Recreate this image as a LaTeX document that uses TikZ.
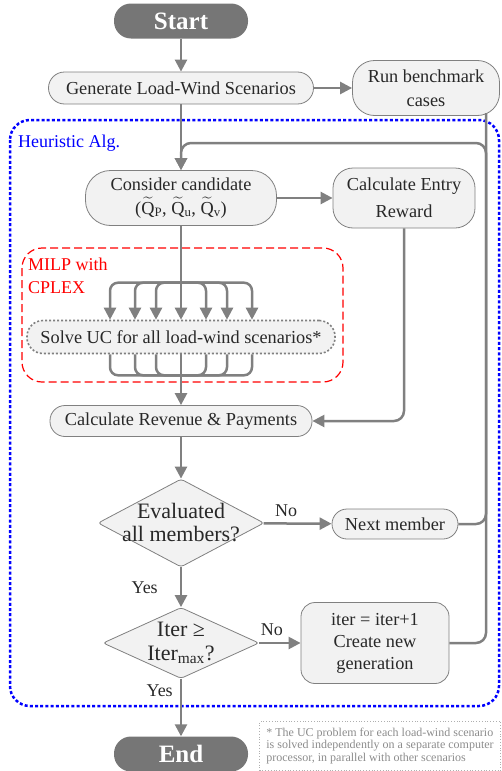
\documentclass[tikz,border=0pt]{standalone}
\usepackage{amsmath}
\usepackage{fontspec}
\setmainfont{Liberation Serif}
\usetikzlibrary{arrows.meta,shapes.geometric,positioning}

\definecolor{linegray}{RGB}{128,128,128}
\definecolor{boxfill}{RGB}{242,242,242}
\definecolor{termfill}{RGB}{118,118,118}
\definecolor{txtgray}{RGB}{40,40,40}
\definecolor{notegray}{RGB}{140,140,140}

\tikzset{
  procbox/.style={draw=linegray, line width=0.8pt, fill=boxfill, text=txtgray,
    align=center, inner sep=0pt, rounded corners=#1,
    font=\fontsize{18.3}{24}\selectfont},
  decision/.style={draw=linegray, line width=0.8pt, fill=boxfill, diamond,
    inner sep=0pt, rounded corners=3pt},
  terminal/.style={fill=termfill, text=white, rounded corners=17pt,
    minimum width=134pt, minimum height=35pt, inner sep=0pt,
    font=\fontsize{25}{30}\selectfont\bfseries},
  flow/.style={draw=linegray, line width=2.5pt,
    -{Triangle[length=12pt,width=12pt]}},
  link/.style={draw=linegray, line width=2.5pt},
  tag/.style={text=txtgray, font=\fontsize{18}{24}\selectfont, inner sep=0pt}
}

\begin{document}
\begin{tikzpicture}[x=1pt,y=-1pt]
		\useasboundingbox (0,0) rectangle (501,771);

		% containers
		\draw [blue, line width=2.5pt, dash pattern=on 3pt off 2.2pt, rounded corners=20pt] (10,120) rectangle (499,706);
		\node [anchor=west, text=blue, font=\fontsize{18}{24}\selectfont, inner sep=0pt] (heur) at (18,143) {Heuristic Alg.};
		\draw [red, line width=1.2pt, dash pattern=on 8pt off 4pt, rounded corners=20pt] (22,248) rectangle (343,382);
		\node [anchor=north west, text=red, align=left, font=\fontsize{18}{23}\selectfont, inner sep=0pt] (milp) at (28,258) {MILP with\\CPLEX};

		% nodes
		\node [terminal] (start) at (181,21) {Start};
		\node [procbox=16pt, minimum width=265pt, minimum height=32pt] (gen) at (181,88) {Generate Load-Wind Scenarios};
		\node [procbox=22pt, minimum width=147pt, minimum height=55pt] (bench) at (426,88) {Run benchmark\\cases};
		\node [procbox=25pt, minimum width=191pt, minimum height=55pt] (cand) at (181,198)
			{Consider candidate\\($\widetilde{\text{Q}}$\textsubscript{P}, $\widetilde{\text{Q}}$\textsubscript{u}, $\widetilde{\text{Q}}$\textsubscript{v})};
		\node [procbox=20pt, minimum width=142pt, minimum height=60pt, font=\fontsize{18.3}{27}\selectfont] (entry) at (404,198) {Calculate Entry\\Reward};
		\node [procbox=16pt, minimum width=308pt, minimum height=33pt, line width=1.6pt, dash pattern=on 2pt off 2pt] (solve) at (181,337)
			{Solve UC for all load-wind scenarios*};
		\node [procbox=15pt, minimum width=262pt, minimum height=31pt] (rev) at (181,421) {Calculate Revenue \& Payments};
		\node [decision, minimum width=166pt, minimum height=88pt,
			label={[tag, align=center, font=\fontsize{22}{23}\selectfont]center:Evaluated\\all members?}] (eval) at (181,523) {};
		\node [procbox=15pt, minimum width=126pt, minimum height=30pt] (next) at (395,524) {Next member};
		\node [decision, minimum width=156pt, minimum height=71pt,
			label={[tag, align=center, font=\fontsize{22}{24}\selectfont]center:Iter ≥\\Iter\textsubscript{max}?}] (iterq) at (181,643) {};
		\node [procbox=14pt, minimum width=148pt, minimum height=81pt, font=\fontsize{18.3}{22}\selectfont] (newgen) at (375,643)
			{iter = iter+1\\Create new\\generation};
		\node [terminal] (end) at (181,754) {End};
		\node [draw=notegray!70, dotted, line width=0.8pt, text=notegray, align=left, inner sep=4pt,
			minimum width=241pt, minimum height=49pt, font=\fontsize{12}{12.5}\selectfont] (note) at (380,746)
			{* The UC problem for each load-wind scenario\\is solved independently on a separate computer\\processor, in parallel with other scenarios};

		\coordinate (loop) at (486,143);

		% connectors
		\draw [flow] (start) -- (gen);
		\draw [flow] (gen) -- (bench);
		\draw [flow] (gen) -- (cand);
		\draw [flow, rounded corners=10pt] (newgen.east) -| (loop) -| (cand.north);
		\draw [link, rounded corners=10pt] (next.east) -| ([yshift=30pt]loop);
		\draw [flow] (cand) -- (entry);
		\draw [flow, rounded corners=10pt] (entry.south) |- (rev.east);
		\draw [flow] (cand) -- (solve);
		\foreach \d in {71,46,25} {
			\draw [flow, {Triangle[length=12pt,width=12pt]}-{Triangle[length=12pt,width=12pt]}, rounded corners=8pt]
				([xshift=-\d pt]solve.north) -- ++(0,-37) -- ++(2*\d,0) -- ([xshift=\d pt]solve.north);
			\draw [link, rounded corners=8pt]
				([xshift=-\d pt]solve.south) -- ++(0,21) -- ++(2*\d,0) -- ([xshift=\d pt]solve.south);
		}
		\draw [flow] (solve) -- (rev);
		\draw [flow] (rev) -- (eval);
		\draw [flow] (eval) -- node [tag, pos=0.33, above=6pt] {No} (next);
		\draw [flow] (eval) -- node [tag, pos=0.52, left=22pt] {Yes} (iterq);
		\draw [flow] (iterq) -- node [tag, pos=0.3, above=6pt] {No} (newgen);
		\draw [flow] (iterq) -- node [tag, pos=0.2, left=7pt] {Yes} (end);

	\end{tikzpicture}
\end{document}
